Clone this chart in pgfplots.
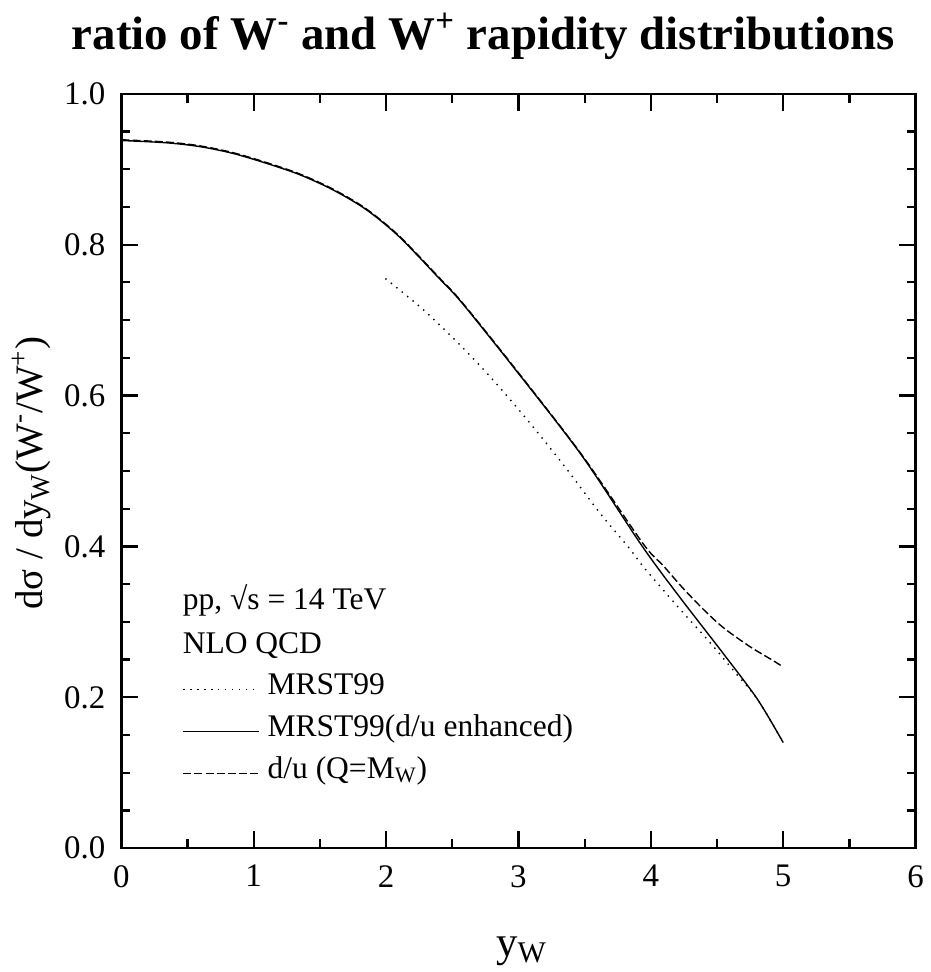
\documentclass[border=0pt]{standalone}
\usepackage{fontspec}
\setmainfont{Liberation Serif}
\usepackage{pgfplots}
\pgfplotsset{compat=1.18}

\begin{document}
\begin{tikzpicture}
\begin{axis}[
  name=ax,
  at={(0,0)}, anchor=south west,
  width=398.3pt, height=378.35pt, scale only axis,
  xmin=0, xmax=6, ymin=0, ymax=1,
  xtick={0,1,2,3,4,5,6}, xticklabels={0,1,2,3,4,5,6},
  ytick={0,0.2,0.4,0.6,0.8,1.0}, yticklabels={0.0,0.2,0.4,0.6,0.8,1.0},
  minor x tick num=1, minor y tick num=3,
  major tick length=8.5pt, minor tick length=4.5pt,
  tick style={black, line width=1.1pt},
  axis line style={line width=1.2pt},
  ticklabel style={font=\fontsize{16.5}{19}\selectfont},
  xticklabel shift=5pt, yticklabel shift=4.5pt,
  xlabel={y\textsubscript{W}},
  ylabel={dσ / dy\textsubscript{W}(W\textsuperscript{-}/W\textsuperscript{+})},
  xlabel style={font=\fontsize{21.5}{25}\selectfont, at={(axis description cs:0.504,-0.143)}, anchor=base},
  ylabel style={font=\fontsize{19.5}{23}\selectfont, at={(axis description cs:-0.0988,0.497)}, anchor=base},
  legend style={at={(axis description cs:0.077,0.2405)}, anchor=north west, draw=none, fill=none,
    inner sep=0pt, outer sep=0pt, font=\fontsize{15.8}{18}\selectfont, row sep=0pt,
    nodes={inner sep=0pt, text height=14pt, text depth=7pt},
    /tikz/every odd column/.append style={column sep=4pt}},
  legend image code/.code={\draw[#1] (0pt,-1pt) -- (38pt,-1pt);},
  legend cell align=left,
]
\addlegendimage{black, line width=0.7pt, dash pattern=on 0.7pt off 2.8pt}
\addlegendentry{MRST99}
\addlegendimage{black, line width=0.7pt}
\addlegendentry{MRST99(d/u enhanced)}
\addlegendimage{black, line width=0.7pt, dash pattern=on 4pt off 1.6pt}
\addlegendentry{d/u (Q=M\textsubscript{W})}

% solid: MRST99 (d/u enhanced)
\addplot[black, line width=0.7pt, smooth, forget plot] coordinates {
(0,0.938) (0.339,0.935) (0.59,0.930) (0.841,0.921) (1.092,0.908) (1.343,0.893)
(1.594,0.873) (1.845,0.847) (2.096,0.811) (2.397,0.756) (2.572,0.723)
(2.974,0.635) (3.476,0.521) (3.928,0.402) (4.204,0.336) (4.556,0.256)
(4.807,0.197) (5.0,0.140)};

% dashed: d/u (Q=M_W)
\addplot[black, line width=0.7pt, dash pattern=on 4pt off 1.6pt, smooth, forget plot] coordinates {
(0,0.939) (0.339,0.936) (0.59,0.931) (0.841,0.922) (1.092,0.909) (1.343,0.894)
(1.594,0.874) (1.845,0.848) (2.096,0.812) (2.397,0.757) (2.572,0.724)
(2.974,0.636) (3.476,0.522) (3.94,0.404) (4.091,0.375) (4.241,0.345)
(4.40,0.316) (4.55,0.292) (4.75,0.267) (4.93,0.248) (5.0,0.240)};

% dotted: MRST99
\addplot[black, line width=0.7pt, dash pattern=on 0.7pt off 2.8pt, smooth, forget plot] coordinates {
(1.995,0.755) (2.276,0.7145) (2.553,0.668) (2.811,0.620) (3.095,0.5617)
(3.358,0.504) (3.614,0.4445) (3.828,0.3996) (3.953,0.371) (4.204,0.320)
(4.455,0.271) (4.631,0.234) (4.807,0.197) (5.0,0.140)};
\end{axis}
\node[anchor=base, font=\bfseries\fontsize{23.5}{28}\selectfont] at (181.65pt,400.35pt)
  {ratio of W\textsuperscript{-} and W\textsuperscript{+} rapidity distributions};
\node[anchor=base west, inner sep=0pt, font=\fontsize{15.8}{18}\selectfont] at (30.65pt,119.5pt) {pp, √s = 14 TeV};
\node[anchor=base west, inner sep=0pt, font=\fontsize{15.8}{18}\selectfont] at (30.65pt,97.85pt) {NLO QCD};
\path (-60.85pt,-60.65pt) rectangle (404.65pt,425.35pt);
\end{tikzpicture}
\end{document}
